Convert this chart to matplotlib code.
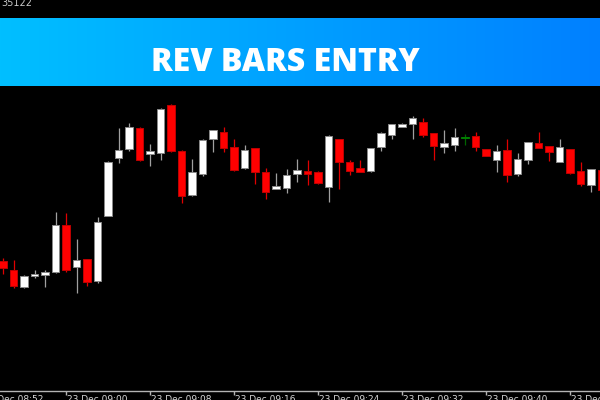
import matplotlib
matplotlib.use('Agg')
import matplotlib.pyplot as plt
from matplotlib.colors import LinearSegmentedColormap
import numpy as np

# ---------------------------------------------------------------- data ---
# 1-minute bars, 23 Dec, first bar at 08:54 (price in points)
first_bar = '08:54'

opens = [239, 230, 213, 224, 225, 228, 275, 233, 241, 219,
         284, 342, 351, 372, 346, 347, 395, 349, 305, 326,
         361, 368, 353, 332, 352, 328, 311, 312, 326, 329,
         328, 313, 361, 338, 332, 329, 353, 365, 373, 376,
         378, 367, 353, 355, 362, 364, 351, 340, 350, 326,
         340, 357, 354, 338, 351, 329, 315, 330]
highs = [242, 240, 225, 230, 230, 288, 287, 261, 241, 283,
         339, 372, 377, 373, 356, 392, 396, 350, 341, 361,
         370, 373, 361, 355, 352, 332, 327, 331, 341, 340,
         329, 365, 361, 340, 340, 352, 368, 376, 377, 384,
         382, 367, 370, 372, 366, 368, 351, 355, 361, 347,
         358, 368, 354, 361, 351, 338, 331, 330]
lows = [226, 212, 212, 222, 213, 227, 228, 207, 214, 217,
        284, 337, 349, 339, 334, 340, 348, 297, 304, 324,
        348, 348, 329, 331, 316, 301, 311, 307, 318, 315,
        316, 298, 311, 325, 328, 328, 349, 361, 373, 361,
        363, 340, 347, 349, 355, 349, 344, 328, 318, 324,
        336, 352, 339, 338, 326, 314, 308, 308]
closes = [232, 214, 224, 226, 228, 275, 230, 240, 218, 278,
          338, 350, 373, 340, 349, 391, 349, 304, 328, 360,
          370, 352, 330, 350, 328, 308, 314, 325, 330, 326,
          317, 364, 338, 329, 328, 352, 367, 376, 376, 382,
          365, 354, 357, 363, 362, 353, 344, 349, 325, 341,
          358, 352, 348, 353, 327, 316, 331, 310]

# bars flagged by the indicator (drawn green)
signal_bars = [44]

tick_labels = ['23 Dec 08:52', '23 Dec 09:00', '23 Dec 09:08', '23 Dec 09:16',
               '23 Dec 09:24', '23 Dec 09:32', '23 Dec 09:40', '23 Dec 09:48']

corner_text = '35122'
title = 'REV BARS ENTRY'


def to_min(s):
    hh, mm = s.split(':')
    return int(hh) * 60 + int(mm)


# -------------------------------------------------------------- figure ---
fig = plt.figure(figsize=(6, 4), dpi=100, facecolor='black')
ax = fig.add_axes([0, 9.3 / 400, 1, 390.7 / 400])
ax.set_facecolor('black')

o = np.array(opens)
h = np.array(highs)
l = np.array(lows)
c = np.array(closes)
x = np.arange(len(o))

body_colors, edge_colors, wick_colors = [], [], []
for i in range(len(o)):
    if i in signal_bars:
        body_colors.append('#008000')
        edge_colors.append('#008000')
        wick_colors.append('#006400')
    elif c[i] >= o[i]:
        body_colors.append('white')
        edge_colors.append('#8a8a8a')
        wick_colors.append('#a0a0a0')
    else:
        body_colors.append('#ff0000')
        edge_colors.append('#c00000')
        wick_colors.append('#e00000')

ax.vlines(x, l, h, colors=wick_colors, linewidth=0.9, zorder=2)
bottom = np.minimum(o, c)
height = np.maximum(np.abs(c - o), 1)
ax.bar(x, height, bottom=bottom, width=0.68, color=body_colors,
       edgecolor=edge_colors, linewidth=0.7, zorder=3)

ax.set_xlim(-3 / 10.5, 597 / 10.5)
ax.set_ylim(109.3, 500)

# time axis
t0 = to_min(first_bar)
tick_pos = [to_min(s.split()[-1]) - t0 for s in tick_labels]
ax.set_xticks([p for p in tick_pos if p >= 0])
ax.set_yticks([])
ax.tick_params(axis='x', colors='#b4b4b4', length=3, width=1,
               labelbottom=False)
for side in ['top', 'left', 'right']:
    ax.spines[side].set_visible(False)
ax.spines['bottom'].set_color('#b4b4b4')
ax.spines['bottom'].set_linewidth(1)

for p, s in zip(tick_pos, tick_labels):
    ax.text(p + 0.1, -0.011, s, transform=ax.get_xaxis_transform(),
            ha='left', va='top', fontsize=6.5, color='#d8d8d8',
            family='DejaVu Sans', clip_on=False)

fig.text(1 / 600, 1 - 5.5 / 400, corner_text, ha='left', va='baseline',
         fontsize=7, color='#c8c8c8')

# title banner
bax = fig.add_axes([0, 1 - 86 / 400, 1, 68 / 400])
grad = np.linspace(0, 1, 256).reshape(1, -1)
cmap = LinearSegmentedColormap.from_list('banner', ['#00bfff', '#0080ff'])
bax.imshow(grad, aspect='auto', cmap=cmap, extent=[0, 1, 0, 1])
bax.set_xlim(0, 1)
bax.set_ylim(0, 1)
bax.axis('off')
bax.text(285 / 600, 15.3 / 68, title, ha='center', va='baseline',
         fontsize=23, fontweight=800, family='Open Sans', color='white')

fig.savefig('out.png', dpi=100, facecolor='black')
